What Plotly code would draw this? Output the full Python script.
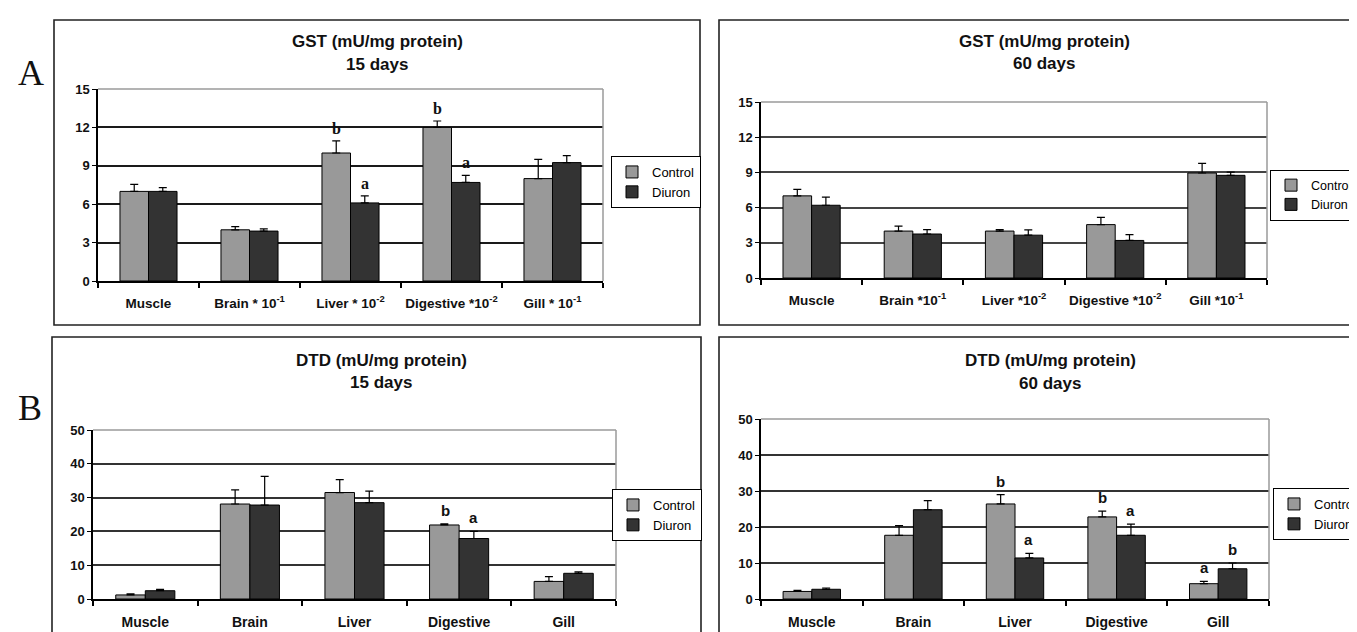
import plotly.graph_objects as go

W, H = 1357, 632

# ---------------- data ----------------
cats_A15 = ["Muscle", "Brain * 10<sup>-1</sup>", "Liver * 10<sup>-2</sup>", "Digestive *10<sup>-2</sup>", "Gill * 10<sup>-1</sup>"]
cats_A60 = ["Muscle", "Brain *10<sup>-1</sup>", "Liver *10<sup>-2</sup>", "Digestive *10<sup>-2</sup>", "Gill *10<sup>-1</sup>"]
cats_B = ["Muscle", "Brain", "Liver", "Digestive", "Gill"]

gst15_control = [7.0, 4.0, 10.0, 12.0, 8.0]
gst15_control_err = [0.55, 0.25, 0.95, 0.5, 1.5]
gst15_diuron = [7.0, 3.9, 6.1, 7.7, 9.25]
gst15_diuron_err = [0.3, 0.17, 0.55, 0.55, 0.55]
gst15_control_sig = ["", "", "b", "b", ""]
gst15_diuron_sig = ["", "", "a", "a", ""]

gst60_control = [7.0, 4.0, 4.0, 4.55, 8.95]
gst60_control_err = [0.55, 0.42, 0.12, 0.62, 0.82]
gst60_diuron = [6.2, 3.75, 3.65, 3.2, 8.75]
gst60_diuron_err = [0.7, 0.37, 0.45, 0.5, 0.28]
gst60_control_sig = ["", "", "", "", ""]
gst60_diuron_sig = ["", "", "", "", ""]

dtd15_control = [1.2, 28.1, 31.5, 21.9, 5.2]
dtd15_control_err = [0.3, 4.2, 3.8, 0.3, 1.4]
dtd15_diuron = [2.45, 27.8, 28.5, 17.9, 7.6]
dtd15_diuron_err = [0.4, 8.5, 3.4, 2.1, 0.4]
dtd15_control_sig = ["", "", "", "b", ""]
dtd15_diuron_sig = ["", "", "", "a", ""]

dtd60_control = [2.1, 17.7, 26.4, 22.8, 4.25]
dtd60_control_err = [0.3, 2.7, 2.6, 1.6, 0.65]
dtd60_diuron = [2.7, 24.8, 11.4, 17.7, 8.4]
dtd60_diuron_err = [0.35, 2.5, 1.3, 3.1, 1.6]
dtd60_control_sig = ["", "", "b", "b", "a"]
dtd60_diuron_sig = ["", "", "a", "a", "b"]

yticks_gst = [0, 3, 6, 9, 12, 15]
yticks_dtd = [0, 10, 20, 30, 40, 50]

# ---------------- layout helpers ----------------
def px_x(x):
    return x / W

def px_y(y):
    return 1 - y / H

SERIF = "Times New Roman, Liberation Serif, serif"
FONT = "Arial, Liberation Sans, sans-serif"

panels = [
    dict(key="", cats=cats_A15, c=gst15_control, ce=gst15_control_err, d=gst15_diuron, de=gst15_diuron_err,
         cs=gst15_control_sig, ds=gst15_diuron_sig, yt=yticks_gst,
         xd=(90, 595), yd=(81, 273), title=("GST (mU/mg protein)", "15 days"), tx=369, ty=(33, 56),
         leg=(603, 174), legfs=13, border=(46, 12, 692, 317), sigfont=SERIF, sigfs=16, sigshift=2,
         grid="#1a1a1a", xfs=13.5),
    dict(key="2", cats=cats_A60, c=gst60_control, ce=gst60_control_err, d=gst60_diuron, de=gst60_diuron_err,
         cs=gst60_control_sig, ds=gst60_diuron_sig, yt=yticks_gst,
         xd=(753, 1259), yd=(94, 270), title=("GST (mU/mg protein)", "60 days"), tx=1036, ty=(33, 55),
         leg=(1262, 187), legfs=12.5, border=(711, 12, 1370, 317), sigfont=SERIF, sigfs=16, sigshift=2,
         grid="#444444", xfs=13.5),
    dict(key="3", cats=cats_B, c=dtd15_control, ce=dtd15_control_err, d=dtd15_diuron, de=dtd15_diuron_err,
         cs=dtd15_control_sig, ds=dtd15_diuron_sig, yt=yticks_dtd,
         xd=(85, 608), yd=(422, 591), title=("DTD (mU/mg protein)", "15 days"), tx=373, ty=(352, 374),
         leg=(604, 507), legfs=13, border=(44, 329, 693, 645), sigfont=FONT, sigfs=15, sigshift=3,
         grid="#333333", xfs=14),
    dict(key="4", cats=cats_B, c=dtd60_control, ce=dtd60_control_err, d=dtd60_diuron, de=dtd60_diuron_err,
         cs=dtd60_control_sig, ds=dtd60_diuron_sig, yt=yticks_dtd,
         xd=(753, 1261), yd=(411, 591), title=("DTD (mU/mg protein)", "60 days"), tx=1042, ty=(352, 375),
         leg=(1265, 506), legfs=13, border=(711, 329, 1370, 645), sigfont=FONT, sigfs=15, sigshift=3,
         grid="#333333", xfs=14),
]

CONTROL_COLOR = "#999999"
DIURON_COLOR = "#333333"

fig = go.Figure()
layout = dict(
    width=W, height=H,
    margin=dict(l=0, r=0, t=0, b=0, autoexpand=False),
    paper_bgcolor="white", plot_bgcolor="white",
    barmode="group", bargap=0.435, bargroupgap=0,
    font=dict(family=FONT, color="black"),
    showlegend=True,
)
shapes = []
annotations = []

for i, p in enumerate(panels):
    k = p["key"]
    xa = "x" + k
    ya = "y" + k
    lg = "legend" + k
    fig.add_trace(go.Bar(
        x=p["cats"], y=p["c"], name="Control", xaxis=xa, yaxis=ya, legend=lg,
        marker=dict(color=CONTROL_COLOR, line=dict(color="black", width=1)),
        error_y=dict(type="data", array=p["ce"], arrayminus=[0] * len(p["ce"]), symmetric=False,
                     color="black", thickness=1.2, width=4),
        offsetgroup="c",
    ))
    fig.add_trace(go.Bar(
        x=p["cats"], y=p["d"], name="Diuron", xaxis=xa, yaxis=ya, legend=lg,
        marker=dict(color=DIURON_COLOR, line=dict(color="black", width=1)),
        error_y=dict(type="data", array=p["de"], arrayminus=[0] * len(p["de"]), symmetric=False,
                     color="black", thickness=1.2, width=4),
        offsetgroup="d",
    ))
    ymax = p["yt"][-1]
    layout["xaxis" + k] = dict(
        domain=[px_x(p["xd"][0]), px_x(p["xd"][1])], anchor=ya,
        type="category", categoryorder="array", categoryarray=p["cats"],
        showline=True, linecolor="black", linewidth=1.5,
        ticks="outside", tickson="boundaries", ticklen=5, tickcolor="black", tickwidth=1.5,
        tickfont=dict(family=FONT, size=p["xfs"], color="#111", weight="bold"),
        tickangle=0, automargin=False,
        ticklabelstandoff=9, showgrid=False, fixedrange=True,
    )
    layout["yaxis" + k] = dict(
        domain=[px_y(p["yd"][1]), px_y(p["yd"][0])], anchor=xa,
        range=[0, ymax], tickvals=p["yt"],
        showline=True, linecolor="black", linewidth=1.5,
        ticks="outside", ticklen=4, tickcolor="black", tickwidth=1.2,
        tickfont=dict(family=FONT, size=13, color="#111", weight="bold"),
        showgrid=True, gridcolor=p["grid"], gridwidth=1.5,
        zeroline=False, fixedrange=True, automargin=False,
    )
    layout[lg] = dict(
        x=px_x(p["leg"][0]), y=px_y(p["leg"][1]), xanchor="left", yanchor="middle",
        xref="paper", yref="paper",
        bordercolor="black", borderwidth=1, bgcolor="white",
        font=dict(family=FONT, size=p["legfs"], color="black"),
        itemwidth=30, tracegroupgap=0, orientation="v",
    )
    # gray frame on top and right of plot area
    shapes.append(dict(type="line", xref=xa + " domain", yref=ya + " domain",
                       x0=0, x1=1, y0=1, y1=1, line=dict(color="#9a9a9a", width=1.5)))
    shapes.append(dict(type="line", xref=xa + " domain", yref=ya + " domain",
                       x0=1, x1=1, y0=0, y1=1, line=dict(color="#9a9a9a", width=1.5)))
    # panel border
    bx0, by0, bx1, by1 = p["border"]
    shapes.append(dict(type="rect", xref="paper", yref="paper",
                       x0=px_x(bx0), x1=px_x(bx1), y0=px_y(by1), y1=px_y(by0),
                       line=dict(color="#222", width=1.6), layer="below"))
    # titles
    for t, ty in zip(p["title"], p["ty"]):
        annotations.append(dict(text="<b>" + t + "</b>", xref="paper", yref="paper",
                                x=px_x(p["tx"]), y=px_y(ty), xanchor="center", yanchor="middle",
                                showarrow=False, font=dict(family=FONT, size=17, color="#111")))
    # significance letters
    for j, cat in enumerate(p["cats"]):
        for sig, val, err, shift in ((p["cs"][j], p["c"][j], p["ce"][j], -14),
                                     (p["ds"][j], p["d"][j], p["de"][j], 14)):
            if sig:
                annotations.append(dict(text="<b>" + sig + "</b>", xref=xa, yref=ya,
                                        x=cat, y=val + err, xshift=shift, yshift=p["sigshift"],
                                        xanchor="center", yanchor="bottom", showarrow=False,
                                        font=dict(family=p["sigfont"], size=p["sigfs"], color="#111")))

# panel letters
annotations.append(dict(text="A", xref="paper", yref="paper", x=px_x(23), y=px_y(65),
                        xanchor="center", yanchor="middle", showarrow=False,
                        font=dict(family=SERIF, size=36, color="#111")))
annotations.append(dict(text="B", xref="paper", yref="paper", x=px_x(22), y=px_y(400),
                        xanchor="center", yanchor="middle", showarrow=False,
                        font=dict(family=SERIF, size=36, color="#111")))

layout["shapes"] = shapes
layout["annotations"] = annotations
fig.update_layout(**layout)
fig.write_html("out.html")
